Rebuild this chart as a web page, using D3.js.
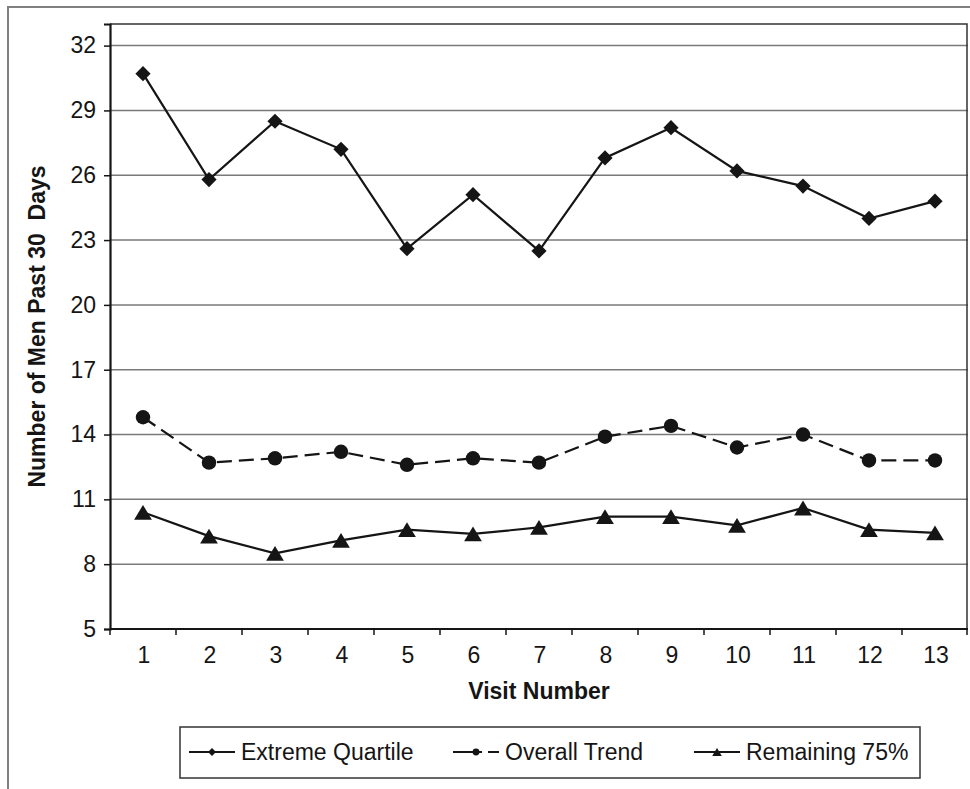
<!DOCTYPE html>
<html>
<head>
<meta charset="utf-8">
<script src="https://cdn.jsdelivr.net/npm/d3@7"></script>
<style>
  html, body { margin: 0; padding: 0; background: #fff; }
  svg { display: block; font-family: "Liberation Sans", Arial, sans-serif; }
</style>
</head>
<body>
<svg id="chart" width="970" height="789"></svg>
<script>
const visits = [1, 2, 3, 4, 5, 6, 7, 8, 9, 10, 11, 12, 13];
const extremeQuartile = [30.7, 25.8, 28.5, 27.2, 22.6, 25.1, 22.5, 26.8, 28.2, 26.2, 25.5, 24.0, 24.8];
const overallTrend = [14.8, 12.7, 12.9, 13.2, 12.6, 12.9, 12.7, 13.9, 14.4, 13.4, 14.0, 12.8, 12.8];
const remaining75 = [10.4, 9.3, 8.5, 9.1, 9.6, 9.4, 9.7, 10.2, 10.2, 9.8, 10.6, 9.6, 9.45];
const yTicks = [5, 8, 11, 14, 17, 20, 23, 26, 29, 32];
const seriesNames = ["Extreme Quartile", "Overall Trend", "Remaining 75%"];
const yTitle = "Number of Men Past 30  Days";
const xTitle = "Visit Number";

const svg = d3.select("#chart");
const ink = "#151515";
const fontSize = 23;

// outer frame
svg.append("path")
  .attr("d", "M8,789 L8,7 L970,7")
  .attr("fill", "none").attr("stroke", "#808080").attr("stroke-width", 2);

const plot = { left: 110, right: 968, top: 24, bottom: 629 };
const x = d3.scaleBand().domain(visits).range([plot.left, plot.right]);
const y = d3.scaleLinear().domain([5, 33]).range([plot.bottom, plot.top]);

// gridlines
svg.append("g").selectAll("line").data(yTicks.filter(t => t > 5)).join("line")
  .attr("x1", plot.left).attr("x2", plot.right)
  .attr("y1", d => y(d)).attr("y2", d => y(d))
  .attr("stroke", "#7a7a7a").attr("stroke-width", 1.5);

// plot top / right border
svg.append("path")
  .attr("d", `M${plot.left},${plot.top} L${plot.right - 1},${plot.top} L${plot.right - 1},${plot.bottom}`)
  .attr("fill", "none").attr("stroke", "#333").attr("stroke-width", 1.5);

// y axis
const yAxis = d3.axisLeft(y).tickValues(yTicks).tickSize(6).tickPadding(8).tickFormat(d3.format("d"));
const gy = svg.append("g").attr("transform", `translate(${plot.left},0)`).call(yAxis);
gy.select(".domain").attr("stroke", ink).attr("stroke-width", 2.2);
gy.selectAll(".tick line").attr("stroke", ink).attr("stroke-width", 1.5);
gy.selectAll(".tick text").attr("font-size", fontSize).attr("fill", ink)
  .attr("font-family", "Liberation Sans, Arial, sans-serif");

// x axis: ticks at band boundaries
const gx = svg.append("g").attr("transform", `translate(0,${plot.bottom})`);
gx.append("line").attr("x1", plot.left).attr("x2", plot.right)
  .attr("stroke", ink).attr("stroke-width", 2.2);
const boundaries = visits.map(v => x(v)).concat([plot.right - 1]);
gx.selectAll("line.tk").data(boundaries).join("line").attr("class", "tk")
  .attr("x1", d => d).attr("x2", d => d).attr("y1", 0).attr("y2", 6)
  .attr("stroke", ink).attr("stroke-width", 1.5);
gx.selectAll("text").data(visits).join("text")
  .attr("x", d => x(d) + x.bandwidth() / 2 + 1)
  .attr("y", 34)
  .attr("text-anchor", "middle")
  .attr("font-size", fontSize).attr("fill", ink)
  .text(d => d);

// axis titles
svg.append("text")
  .attr("transform", `translate(45,${(plot.top + plot.bottom) / 2}) rotate(-90)`)
  .attr("text-anchor", "middle")
  .attr("font-size", fontSize).attr("font-weight", "bold").attr("fill", ink)
  .style("white-space", "pre")
  .attr("xml:space", "preserve")
  .text(yTitle);

svg.append("text")
  .attr("x", (plot.left + plot.right) / 2)
  .attr("y", 699)
  .attr("text-anchor", "middle")
  .attr("font-size", fontSize).attr("font-weight", "bold").attr("fill", ink)
  .text(xTitle);

// marker shapes
const diamond = s => `M0,${-s} L${s},0 L0,${s} L${-s},0 Z`;
const triangle = s => `M0,${-s} L${s * 1.2},${s} L${-s * 1.2},${s} Z`;

const series = [
  { name: seriesNames[0], values: extremeQuartile, marker: "diamond", dash: null },
  { name: seriesNames[1], values: overallTrend, marker: "circle", dash: "15,7" },
  { name: seriesNames[2], values: remaining75, marker: "triangle", dash: null }
];

const line = d3.line()
  .x((d, i) => x(visits[i]) + x.bandwidth() / 2)
  .y(d => y(d));

function drawMarker(g, type, size) {
  if (type === "circle") {
    g.append("circle").attr("r", size).attr("fill", ink);
  } else if (type === "diamond") {
    g.append("path").attr("d", diamond(size)).attr("fill", ink);
  } else {
    g.append("path").attr("d", triangle(size)).attr("fill", ink);
  }
}

series.forEach(s => {
  svg.append("path")
    .datum(s.values)
    .attr("d", line)
    .attr("fill", "none")
    .attr("stroke", ink)
    .attr("stroke-width", 2.2)
    .attr("stroke-dasharray", s.dash);
  const sizes = { diamond: 7.6, circle: 7.2, triangle: 7.4 };
  s.values.forEach((v, i) => {
    const g = svg.append("g")
      .attr("transform", `translate(${x(visits[i]) + x.bandwidth() / 2},${y(v)})`);
    drawMarker(g, s.marker, sizes[s.marker]);
  });
});

// legend
const legend = svg.append("g");
legend.append("rect")
  .attr("x", 180).attr("y", 727).attr("width", 740).attr("height", 51)
  .attr("fill", "#fff").attr("stroke", "#333").attr("stroke-width", 1.5);
const legendX = [189, 453, 694];
series.forEach((s, i) => {
  const g = legend.append("g").attr("transform", `translate(${legendX[i]},752)`);
  g.append("line").attr("x1", 0).attr("x2", 46).attr("y1", 0).attr("y2", 0)
    .attr("stroke", ink).attr("stroke-width", 2)
    .attr("stroke-dasharray", s.dash ? "29,6" : null);
  const m = g.append("g").attr("transform", "translate(23,0)");
  drawMarker(m, s.marker, s.marker === "circle" ? 3.4 : 4);
  g.append("text").attr("x", 52).attr("y", 8)
    .attr("font-size", fontSize).attr("fill", ink)
    .text(s.name);
});
</script>
</body>
</html>
